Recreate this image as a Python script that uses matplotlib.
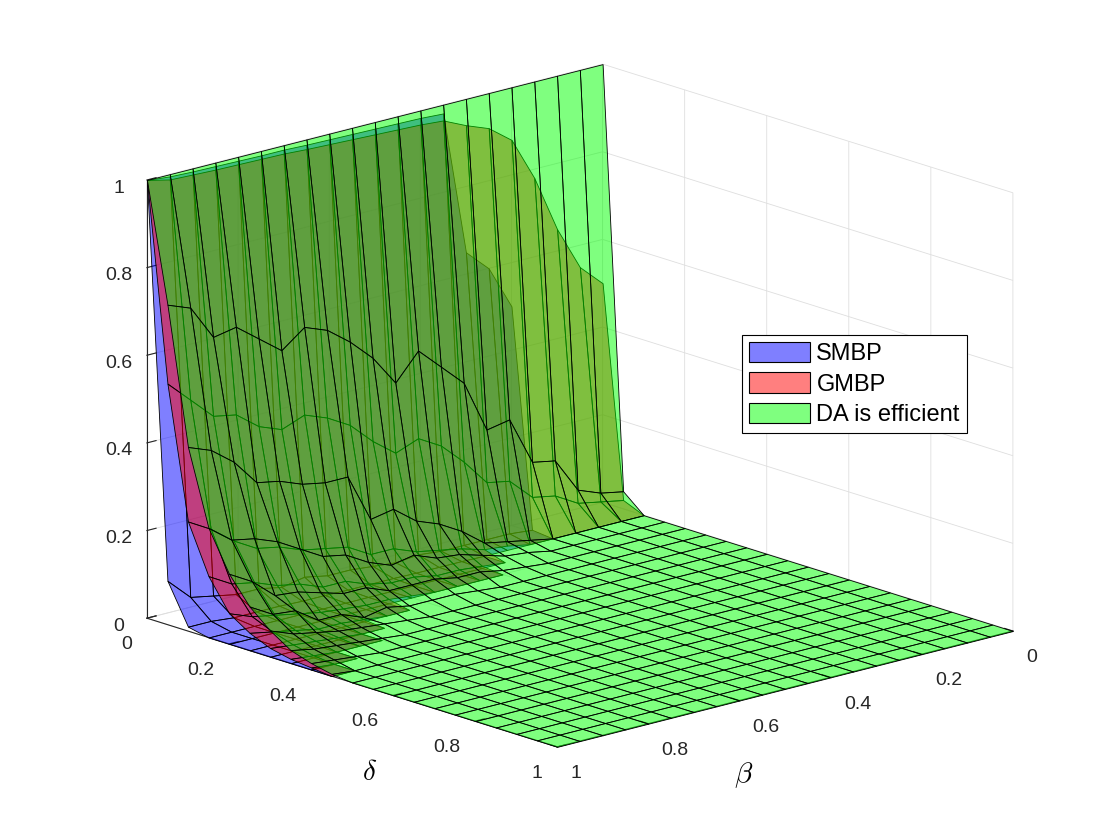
import numpy as np
import matplotlib
matplotlib.use("Agg")
import matplotlib.pyplot as plt
from matplotlib.patches import Patch
from mpl_toolkits.mplot3d import proj3d
from mpl_toolkits.mplot3d.art3d import Poly3DCollection

nan = np.nan

# grid: rows are delta, columns are beta (running from 1 down to 0)
delta = [0.00, 0.05, 0.10, 0.15, 0.20, 0.25, 0.30, 0.35, 0.40, 0.45, 0.50,
         0.55, 0.60, 0.65, 0.70, 0.75, 0.80, 0.85, 0.90, 0.95, 1.00]
beta = [1.00, 0.95, 0.90, 0.85, 0.80, 0.75, 0.70, 0.65, 0.60, 0.55, 0.50,
        0.45, 0.40, 0.35, 0.30, 0.25, 0.20, 0.15, 0.10, 0.05, 0.00]

# DA is efficient, delta = 0 ... 0.45 (zero further out)
da_rows = [
    [1.00, 1.00, 1.00, 1.00, 1.00, 1.00, 1.00, 1.00, 1.00, 1.00, 1.00, 1.00, 1.00, 1.00, 1.00, 1.00, 1.00, 1.00, 1.00, 1.00, 1.00],
    [0.73, 0.71, 0.63, 0.64, 0.60, 0.56, 0.60, 0.58, 0.54, 0.49, 0.42, 0.48, 0.43, 0.38, 0.26, 0.27, 0.16, 0.15, 0.07, 0.05, 0.04],
    [0.42, 0.40, 0.36, 0.30, 0.29, 0.27, 0.26, 0.26, 0.15, 0.16, 0.12, 0.10, 0.07, 0.03, 0.02, 0.01, 0.00, 0.00, 0.00, 0.00, 0.00],
    [0.25, 0.21, 0.20, 0.18, 0.15, 0.12, 0.11, 0.08, 0.06, 0.07, 0.05, 0.045, 0.03, 0.015, 0.01, 0.00, 0.00, 0.00, 0.00, 0.00, 0.00],
    [0.16, 0.13, 0.085, 0.08, 0.065, 0.05, 0.05, 0.03, 0.03, 0.03, 0.02, 0.02, 0.01, 0.005, 0.00, 0.00, 0.00, 0.00, 0.00, 0.00, 0.00],
    [0.10, 0.07, 0.065, 0.03, 0.03, 0.01, 0.02, 0.01, 0.01, 0.01, 0.005, 0.00, 0.00, 0.00, 0.00, 0.00, 0.00, 0.00, 0.00, 0.00, 0.00],
    [0.06, 0.04, 0.03, 0.02, 0.015, 0.01, 0.005, 0.00, 0.00, 0.00, 0.00, 0.00, 0.00, 0.00, 0.00, 0.00, 0.00, 0.00, 0.00, 0.00, 0.00],
    [0.03, 0.02, 0.015, 0.01, 0.005, 0.00, 0.00, 0.00, 0.00, 0.00, 0.00, 0.00, 0.00, 0.00, 0.00, 0.00, 0.00, 0.00, 0.00, 0.00, 0.00],
    [0.015, 0.01, 0.005, 0.00, 0.00, 0.00, 0.00, 0.00, 0.00, 0.00, 0.00, 0.00, 0.00, 0.00, 0.00, 0.00, 0.00, 0.00, 0.00, 0.00, 0.00],
    [0.005, 0.00, 0.00, 0.00, 0.00, 0.00, 0.00, 0.00, 0.00, 0.00, 0.00, 0.00, 0.00, 0.00, 0.00, 0.00, 0.00, 0.00, 0.00, 0.00, 0.00],
]

# GMBP, delta = 0 ... 0.45 (not drawn further out)
gmbp_rows = [
    [1.00, 0.988, 0.986, 0.984, 0.983, 0.982, 0.981, 0.978, 0.976, 0.974, 0.972, 0.97, 0.968, 0.964, 0.94, 0.92, 0.88, 0.78, 0.65, 0.55, 0.50],
    [0.55, 0.50, 0.45, 0.44, 0.40, 0.38, 0.40, 0.38, 0.35, 0.30, 0.26, 0.28, 0.25, 0.20, 0.14, 0.13, 0.08, 0.07, 0.04, 0.03, 0.02],
    [0.25, 0.22, 0.18, 0.15, 0.14, 0.12, 0.11, 0.10, 0.07, 0.07, 0.05, 0.04, 0.03, 0.015, 0.01, 0.00, 0.00, 0.00, 0.00, 0.00, 0.00],
    [0.14, 0.11, 0.10, 0.08, 0.07, 0.05, 0.05, 0.03, 0.02, 0.02, 0.01, 0.01, 0.005, 0.00, nan, nan, nan, nan, nan, nan, nan],
    [0.07, 0.05, 0.04, 0.03, 0.02, 0.015, 0.01, 0.01, 0.005, 0.00, 0.00, 0.00, 0.00, nan, nan, nan, nan, nan, nan, nan, nan],
    [0.04, 0.03, 0.02, 0.01, 0.01, 0.005, 0.00, 0.00, nan, nan, nan, nan, nan, nan, nan, nan, nan, nan, nan, nan, nan],
    [0.02, 0.015, 0.01, 0.005, 0.00, 0.00, nan, nan, nan, nan, nan, nan, nan, nan, nan, nan, nan, nan, nan, nan, nan],
    [0.01, 0.005, 0.00, 0.00, 0.00, nan, nan, nan, nan, nan, nan, nan, nan, nan, nan, nan, nan, nan, nan, nan, nan],
    [0.005, 0.00, 0.00, nan, nan, nan, nan, nan, nan, nan, nan, nan, nan, nan, nan, nan, nan, nan, nan, nan, nan],
    [0.00, 0.00, nan, nan, nan, nan, nan, nan, nan, nan, nan, nan, nan, nan, nan, nan, nan, nan, nan, nan, nan],
]

# SMBP, delta = 0 ... 0.45 (not drawn further out)
smbp_rows = [
    [1.00, 0.995, 0.993, 0.992, 0.991, 0.99, 0.99, 0.988, 0.987, 0.986, 0.985, 0.984, 0.983, 0.98, 0.65, 0.60, 0.50, 0.85, 0.75, 0.62, 0.55],
    [0.10, 0.05, 0.04, 0.03, 0.03, 0.02, 0.03, 0.02, 0.02, 0.015, 0.01, 0.015, 0.01, 0.01, 0.01, 0.01, 0.005, nan, nan, nan, nan],
    [0.01, 0.01, 0.005, 0.005, 0.005, 0.003, 0.003, 0.002, 0.002, 0.002, 0.001, 0.001, 0.001, 0.00, 0.00, 0.00, 0.00, nan, nan, nan, nan],
    [0.00, 0.00, 0.00, 0.00, 0.00, 0.00, 0.00, 0.00, 0.00, 0.00, 0.00, 0.00, 0.00, 0.00, nan, nan, nan, nan, nan, nan, nan],
    [0.00, 0.00, 0.00, 0.00, 0.00, 0.00, 0.00, 0.00, 0.00, 0.00, 0.00, 0.00, 0.00, nan, nan, nan, nan, nan, nan, nan, nan],
    [0.00, 0.00, 0.00, 0.00, 0.00, 0.00, 0.00, 0.00, nan, nan, nan, nan, nan, nan, nan, nan, nan, nan, nan, nan, nan],
    [0.00, 0.00, 0.00, 0.00, 0.00, 0.00, nan, nan, nan, nan, nan, nan, nan, nan, nan, nan, nan, nan, nan, nan, nan],
    [0.00, 0.00, 0.00, 0.00, 0.00, nan, nan, nan, nan, nan, nan, nan, nan, nan, nan, nan, nan, nan, nan, nan, nan],
    [0.00, 0.00, 0.00, nan, nan, nan, nan, nan, nan, nan, nan, nan, nan, nan, nan, nan, nan, nan, nan, nan, nan],
    [0.00, 0.00, nan, nan, nan, nan, nan, nan, nan, nan, nan, nan, nan, nan, nan, nan, nan, nan, nan, nan, nan],
]

names = ["SMBP", "GMBP", "DA is efficient"]
colors = [(0.0, 0.0, 1.0), (1.0, 0.0, 0.0), (0.0, 1.0, 0.0)]

ticks = [0, 0.2, 0.4, 0.6, 0.8, 1]
tick_labels = ["0", "0.2", "0.4", "0.6", "0.8", "1"]

# full surfaces
n, m = len(delta), len(beta)
da = np.zeros((n, m))
da[:len(da_rows)] = da_rows
gmbp = np.full((n, m), nan)
gmbp[:len(gmbp_rows)] = gmbp_rows
smbp = np.full((n, m), nan)
smbp[:len(smbp_rows)] = smbp_rows

plt.rcParams["font.family"] = ["Liberation Sans", "DejaVu Sans"]
plt.rcParams["mathtext.fontset"] = "cm"
plt.rcParams["grid.color"] = "#dedede"
plt.rcParams["grid.linewidth"] = 0.6

elev, azim = 16.4, 48.0
fig = plt.figure(figsize=(11.2, 8.4), dpi=100)
ax = fig.add_axes([0.1, 0.1, 0.8, 0.8], projection="3d")
ax.set_proj_type("ortho")
ax.view_init(elev=elev, azim=azim)
ax.set_box_aspect((1, 1, 0.745))
ax.computed_zorder = False

# painter's order done by hand: cells far to near in the ground plane,
# and inside one cell SMBP, then GMBP, then DA on top
ca, sa = np.cos(np.radians(azim)), np.sin(np.radians(azim))
cells = []
for level, (Z, col) in enumerate(zip([smbp, gmbp, da], colors)):
    for i in range(n - 1):
        for j in range(m - 1):
            quad = [(i, j), (i, j + 1), (i + 1, j + 1), (i + 1, j)]
            if np.isnan([Z[a, b] for a, b in quad]).any():
                continue
            near = ca * (beta[j] + beta[j + 1]) + sa * (delta[i] + delta[i + 1])
            cells.append((round(near, 9), level,
                          [(beta[b], delta[a], Z[a, b]) for a, b in quad], col))
cells.sort(key=lambda c: (c[0], c[1]))
for _, _, quad, col in cells:
    ax.add_collection3d(Poly3DCollection([quad], facecolors=[col + (0.5,)],
                                         edgecolors="black", linewidths=0.6))

ax.set_xlim(0, 1)
ax.set_ylim(0, 1)
ax.set_zlim(0, 1)
for axis in (ax.xaxis, ax.yaxis, ax.zaxis):
    axis.set_ticks(ticks)
    axis.set_ticklabels(tick_labels)
    axis.set_pane_color((1, 1, 1, 0))
    axis.pane.set_edgecolor("#dedede")
    axis.line.set_color("#262626")
    axis.line.set_linewidth(0.8)
    axis._axinfo["tick"]["inward_factor"] = 0.0
    axis._axinfo["tick"]["outward_factor"] = 0.25
ax.tick_params(labelsize=14, colors="#262626")
for lab in ax.yaxis.get_ticklabels():
    lab.set_horizontalalignment("right")
for lab in ax.xaxis.get_ticklabels():
    lab.set_horizontalalignment("left")
ax.grid(True)

fig.text(370 / 1120, 1 - 772 / 840, r"$\delta$", fontsize=21, ha="center", va="center")
fig.text(744 / 1120, 1 - 775 / 840, r"$\beta$", fontsize=21, ha="center", va="center")

handles = [Patch(facecolor=c + (0.5,), edgecolor="black", linewidth=0.8) for c in colors]
leg = fig.legend(handles, names, loc="upper left", bbox_to_anchor=(742 / 1120, 1 - 335 / 840),
                 bbox_transform=fig.transFigure, borderaxespad=0, fontsize=17,
                 fancybox=False, framealpha=1, edgecolor="black", handlelength=2.6,
                 handleheight=0.95, labelspacing=0.3, handletextpad=0.25, borderpad=0.3)
leg.get_frame().set_linewidth(0.8)

# move the axes so the box corners sit where they are in the original picture
fig.canvas.draw()
corners = np.array([[1, 0, 0], [1, 1, 0], [0, 1, 0], [1, 0, 1]], float)
target = np.array([[147, 618], [557, 747], [1013, 631], [147, 180]], float)
target[:, 1] = 840 - target[:, 1]
px, py, _ = proj3d.proj_transform(corners[:, 0], corners[:, 1], corners[:, 2], ax.get_proj())
now = ax.transData.transform(np.column_stack([px, py]))
dn = now - now.mean(0)
dt = target - target.mean(0)
s = (dn * dt).sum() / (dn ** 2).sum()
t = target.mean(0) - s * now.mean(0)
pos = ax.get_position()
ax.set_position([(s * pos.x0 * 1120 + t[0]) / 1120, (s * pos.y0 * 840 + t[1]) / 840,
                 s * pos.width, s * pos.height])

fig.savefig("out.png", dpi=100)
